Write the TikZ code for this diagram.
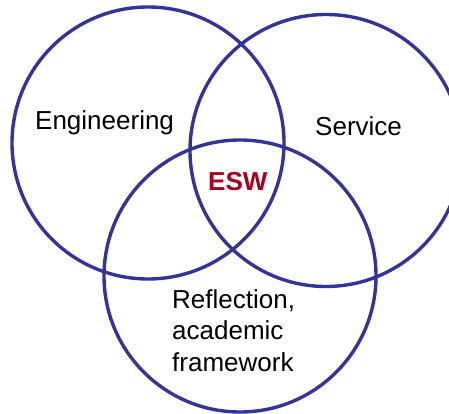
\documentclass[tikz,border=0pt]{standalone}
\usepackage{fontspec}
\setmainfont{Liberation Sans}
\definecolor{ringblue}{RGB}{51,51,153}
\definecolor{eswred}{RGB}{165,0,33}
\begin{document}
\begin{tikzpicture}[x=1pt, y=-1pt,
    ring/.style={draw=ringblue, line width=3.4pt, circle, minimum size=272pt, inner sep=0pt},
    label/.style={inner sep=0pt, anchor=base west, font=\fontsize{26}{31.5}\selectfont}]
         \clip (0,0) rectangle (449,414);
         %circles
         \node[ring] at (148,143) (eng) {};
         \node[ring] at (326,150.5) (serv) {};
         \node[ring] at (240,276) (refl) {};
         %texts
         \node[label] at (35,130) (engtext) {Engineering};
         \node[label] at (315,136) (servtext) {Service};
         \node[label, text=eswred, font=\fontsize{26}{31.5}\selectfont\bfseries] at (208,190) (esw) {ESW};
         \node[label, align=left, anchor=north west] at (172,289) (refltext) {Reflection,\\academic\\framework};
    \end{tikzpicture}
\end{document}
